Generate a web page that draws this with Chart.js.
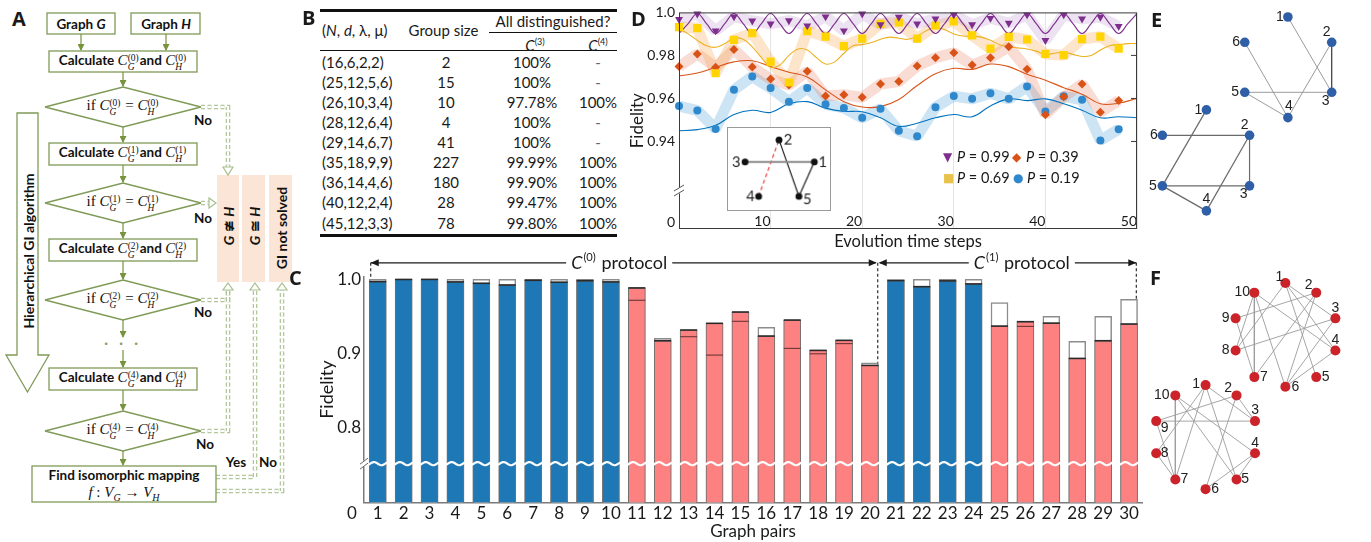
<!DOCTYPE html>
<html lang="en">
<head>
<meta charset="UTF-8" />
<title>Hierarchical GI algorithm – fidelities</title>
<script src="https://cdn.jsdelivr.net/npm/chart.js"></script>
<style>
  html, body { margin: 0; padding: 0; background: #fff; }
  body {
    width: 1371px; height: 542px; position: relative; overflow: hidden;
    font-family: Lato, 'Open Sans', sans-serif; color: #1a1a1a;
  }
  canvas { position: absolute; }
  .tag { position: absolute; font: bold 20px 'Open Sans', Lato, sans-serif; line-height: 20px; color: #1a1a1a; }
  .ft { position: absolute; transform: translate(-50%, -50%); white-space: nowrap; font: bold 13.5px Lato, sans-serif; color: #111; }
  .m { font-family: 'Liberation Serif', 'DejaVu Serif', serif; font-weight: normal; font-size: 15px; }
  .ss { display: inline-flex; flex-direction: column; font-size: 9.5px; line-height: 9px; vertical-align: 4px; text-align: left; margin-right: 1px; }
  .vert { position: absolute; transform: translate(-50%, -50%) rotate(-90deg); white-space: nowrap; font: bold 14px Lato, sans-serif; color: #111; }
  #tbl div { position: absolute; white-space: nowrap; font-size: 15px; line-height: 20px; }
  .rule { position: absolute; background: #111; }
  .leg { position: absolute; font: 14.5px Lato, sans-serif; white-space: nowrap; line-height: 18px; }
  .sym { position: absolute; font: 12px 'DejaVu Sans', sans-serif; line-height: 14px; }
  #inset { border: 1px solid #9a9a9a; background: #fff; }
</style>
</head>
<body>

<!-- A: flowchart -->
<svg style="position:absolute;left:0;top:0" width="300" height="510">
  <defs>
    <marker id="ah" markerWidth="7" markerHeight="7" refX="6" refY="3.5" orient="auto" markerUnits="userSpaceOnUse">
      <path d="M0,0 L7,3.5 L0,7 z" fill="#77933c"/>
    </marker>
  </defs>
  <g fill="#fbe5d6">
    <rect x="217" y="175" width="22" height="107"/>
    <rect x="242" y="175" width="23" height="107"/>
    <rect x="269" y="175" width="23" height="107"/>
  </g>
  <g fill="none" stroke="#b3c79c" stroke-width="4.6" stroke-dasharray="4 2.5">
    <path d="M201,107 H228 V168"/>
    <path d="M201,203 H210"/>
    <path d="M201,300 H228 V290"/>
    <path d="M201,431 H228 V290"/>
    <path d="M216,477 H255 V290"/>
    <path d="M216,491 H282 V290"/>
  </g>
  <g fill="none" stroke="#fff" stroke-width="2" stroke-dasharray="4 2.5">
    <path d="M201,107 H228 V168"/>
    <path d="M201,203 H210"/>
    <path d="M201,300 H228 V290"/>
    <path d="M201,431 H228 V290"/>
    <path d="M216,477 H255 V290"/>
    <path d="M216,491 H282 V290"/>
  </g>
  <g fill="#fff" stroke="#a9bf8f" stroke-width="1.2">
    <polygon points="223,167 233,167 228,175"/>
    <polygon points="209,198 209,208 216,203"/>
    <polygon points="223,290 233,290 228,283"/>
    <polygon points="250,290 260,290 255,283"/>
    <polygon points="277,290 287,290 282,283"/>
  </g>
  <g fill="#fff" stroke="#7f9a57" stroke-width="1.3">
    <rect x="47" y="13" width="68" height="21"/>
    <rect x="131" y="13" width="69" height="21"/>
    <rect x="49" y="51" width="148" height="21"/>
    <polygon points="45,107 123,87 201,107 123,127"/>
    <rect x="49" y="143" width="148" height="22"/>
    <polygon points="45,203 123,183 201,203 123,223"/>
    <rect x="49" y="239" width="148" height="22"/>
    <polygon points="45,300 123,280 201,300 123,320"/>
    <rect x="49" y="368" width="148" height="22"/>
    <polygon points="45,431 123,411 201,431 123,451"/>
    <rect x="32" y="466" width="184" height="36"/>
    <polygon points="17,113 38,113 38,355 49,355 27.5,392 6,355 17,355"/>
  </g>
  <g stroke="#77933c" stroke-width="1.2" marker-end="url(#ah)">
    <line x1="81" y1="34" x2="81" y2="50"/>
    <line x1="166" y1="34" x2="166" y2="50"/>
    <line x1="123" y1="72" x2="123" y2="86"/>
    <line x1="123" y1="127" x2="123" y2="142"/>
    <line x1="123" y1="165" x2="123" y2="182"/>
    <line x1="123" y1="223" x2="123" y2="238"/>
    <line x1="123" y1="261" x2="123" y2="279"/>
    <line x1="123" y1="320" x2="123" y2="337"/>
    <line x1="123" y1="350" x2="123" y2="367"/>
    <line x1="123" y1="390" x2="123" y2="410"/>
    <line x1="123" y1="451" x2="123" y2="465"/>
  </g>
</svg>
<div id="flow"></div>

<!-- B: table -->
<div id="tbl"></div>

<!-- C and D charts -->
<canvas id="cChart" width="850" height="302" style="left:300px;top:240px"></canvas>
<canvas id="dChart" width="525" height="252" style="left:620px;top:0px"></canvas>
<canvas id="inset" width="104" height="84" style="left:727px;top:127px"></canvas>
<div id="dLegend"></div>

<!-- E and F graphs -->
<canvas id="eChart" width="231" height="250" style="left:1140px;top:0px"></canvas>
<canvas id="fChart" width="231" height="272" style="left:1140px;top:270px"></canvas>

<div class="tag" style="left:12px;top:9px">A</div>
<div class="tag" style="left:302px;top:8px">B</div>
<div class="tag" style="left:289px;top:268px">C</div>
<div class="tag" style="left:631px;top:9px">D</div>
<div class="tag" style="left:1151px;top:10px">E</div>
<div class="tag" style="left:1150px;top:268px">F</div>

<script>
// ---------- B: table values ----------
const srgParams = ['(16,6,2,2)', '(25,12,5,6)', '(26,10,3,4)', '(28,12,6,4)', '(29,14,6,7)',
                   '(35,18,9,9)', '(36,14,4,6)', '(40,12,2,4)', '(45,12,3,3)'];
const groupSizes = ['2', '15', '10', '4', '41', '227', '180', '28', '78'];
const distC3 = ['100%', '100%', '97.78%', '100%', '100%', '99.99%', '99.90%', '99.47%', '99.80%'];
const distC4 = ['-', '-', '100%', '-', '-', '100%', '100%', '100%', '100%'];

// ---------- C: fidelity of the 30 graph pairs ----------
const pairIds = [1, 2, 3, 4, 5, 6, 7, 8, 9, 10, 11, 12, 13, 14, 15,
                 16, 17, 18, 19, 20, 21, 22, 23, 24, 25, 26, 27, 28, 29, 30];
const pairKind = ['a', 'a', 'a', 'a', 'a', 'a', 'a', 'a', 'a', 'a',
                  'b', 'b', 'b', 'b', 'b', 'b', 'b', 'b', 'b', 'b',
                  'a', 'a', 'a', 'a', 'b', 'b', 'b', 'b', 'b', 'b'];
const fidMeasured = [0.9968, 0.9997, 0.9998, 0.9964, 0.9946, 0.9923, 0.9986, 0.9960, 0.9980, 0.9964,
                     0.9883, 0.9173, 0.9317, 0.9407, 0.9559, 0.9236, 0.9451, 0.9043, 0.9178, 0.8841,
                     0.9982, 0.9900, 0.9978, 0.9937, 0.9370, 0.9429, 0.9410, 0.8935, 0.9173, 0.9398];
const fidTheory = [1.0, 1.0, 1.0, 1.0, 1.0, 1.0, 1.0, 1.0, 1.0, 1.0,
                   0.9883, 0.9205, 0.9317, 0.9407, 0.9559, 0.9353, 0.9451, 0.9043, 0.9178, 0.8876,
                   0.9995, 1.0, 1.0, 1.0, 0.9685, 0.9429, 0.9500, 0.9164, 0.9500, 0.9730];
const fidInner = [null, null, null, null, null, null, null, null, null, null,
                  0.9717, null, 0.9227, 0.8980, 0.9434, null, 0.9070, 0.8997, 0.9134, null,
                  null, null, null, null, null, 0.9366, null, null, null, null];
const xTicksC = [0, 1, 2, 3, 4, 5, 6, 7, 8, 9, 10, 11, 12, 13, 14, 15,
                 16, 17, 18, 19, 20, 21, 22, 23, 24, 25, 26, 27, 28, 29, 30];
const yTicksC = [0.8, 0.9, 1.0];

// ---------- D: fidelity vs evolution time steps ----------
const stepsPts = [0, 2, 4, 6, 8, 10, 12, 14, 16, 18, 20, 22, 24,
                  26, 28, 30, 32, 34, 36, 38, 40, 42, 44, 46, 48];
const fidP99 = [0.9968, 0.9993, 0.9915, 0.9980, 0.9961, 0.9947, 0.9962, 0.9938, 0.9980, 0.9915, 0.9993, 0.9943, 0.9978,
                0.9947, 0.9970, 0.9989, 0.9943, 0.9973, 0.9950, 0.9989, 0.9870, 0.9989, 0.9970, 0.9978, 0.9935];
const fidP69 = [0.9932, 0.9927, 0.9717, 0.9872, 0.9904, 0.9771, 0.9674, 0.9913, 0.9887, 0.9843, 0.9878, 0.9947, 0.9953,
                0.9878, 0.9939, 0.9958, 0.9893, 0.9832, 0.9886, 0.9874, 0.9807, 0.9801, 0.9876, 0.9887, 0.9832];
const fidP39 = [0.9748, 0.9807, 0.9745, 0.9828, 0.9746, 0.9690, 0.9662, 0.9726, 0.9611, 0.9617, 0.9605, 0.9667, 0.9679,
                0.9751, 0.9789, 0.9812, 0.9755, 0.9789, 0.9840, 0.9736, 0.9524, 0.9608, 0.9667, 0.9536, 0.9590];
const fidP19 = [0.9565, 0.9544, 0.9458, 0.9640, 0.9702, 0.9648, 0.9585, 0.9648, 0.9573, 0.9556, 0.9510, 0.9552, 0.9450,
                0.9424, 0.9559, 0.9611, 0.9598, 0.9624, 0.9598, 0.9656, 0.9539, 0.9610, 0.9594, 0.9405, 0.9457];
// theory curves
const stepsFine = [0, 1, 2, 3, 4, 5, 6, 7, 8, 9, 10, 11, 12, 13, 14, 15, 16, 17, 18, 19, 20, 21, 22, 23, 24, 25,
                   26, 27, 28, 29, 30, 31, 32, 33, 34, 35, 36, 37, 38, 39, 40, 41, 42, 43, 44, 45, 46, 47, 48, 49, 50];
const stepsCoarse = [0, 2, 4, 6, 8, 10, 12, 14, 16, 18, 20, 22, 24, 26, 28, 30, 32, 34, 36, 38, 40, 42, 44, 46, 48, 50];
const theoP99 = [0.9902, 0.9948, 0.9995, 0.9948, 0.9902, 0.9948, 0.9995, 0.9948, 0.9902, 0.9948, 0.9995, 0.9948,
                 0.9902, 0.9948, 0.9995, 0.9948, 0.9902, 0.9948, 0.9995, 0.9948, 0.9902, 0.9948, 0.9995, 0.9948,
                 0.9902, 0.9948, 0.9995, 0.9948, 0.9902, 0.9948, 0.9995, 0.9948, 0.9902, 0.9948, 0.9995, 0.9948,
                 0.9902, 0.9948, 0.9995, 0.9948, 0.9902, 0.9948, 0.9995, 0.9948, 0.9902, 0.9948, 0.9995, 0.9948,
                 0.9902, 0.9948, 0.9995];
const theoP69 = [0.9925, 0.9900, 0.9870, 0.9845, 0.9838, 0.9855, 0.9880, 0.9875, 0.9840, 0.9790, 0.9745, 0.9755,
                 0.9800, 0.9830, 0.9825, 0.9790, 0.9760, 0.9770, 0.9810, 0.9845, 0.9850, 0.9860, 0.9875, 0.9885,
                 0.9880, 0.9875, 0.9890, 0.9915, 0.9930, 0.9920, 0.9900, 0.9890, 0.9890, 0.9885, 0.9870, 0.9850,
                 0.9840, 0.9835, 0.9830, 0.9820, 0.9805, 0.9810, 0.9815, 0.9805, 0.9795, 0.9800, 0.9825, 0.9845,
                 0.9850, 0.9855, 0.9855];
const theoP39 = [0.9705, 0.9718, 0.9745, 0.9770, 0.9775, 0.9748, 0.9722, 0.9700, 0.9640, 0.9585, 0.9560, 0.9562, 0.9595,
                 0.9660, 0.9715, 0.9740, 0.9735, 0.9760, 0.9748, 0.9712, 0.9685, 0.9650, 0.9620, 0.9575, 0.9578, 0.9600];
const theoP19 = [0.9450, 0.9455, 0.9475, 0.9525, 0.9545, 0.9535, 0.9575, 0.9585, 0.9555, 0.9540, 0.9538, 0.9510, 0.9470,
                 0.9485, 0.9510, 0.9525, 0.9515, 0.9565, 0.9598, 0.9590, 0.9598, 0.9575, 0.9545, 0.9510, 0.9515, 0.9510];
const yTicksD = [0.9025, 0.94, 0.96, 0.98, 1.0];

// inset graph of D (box pixel coordinates)
const insetX = [91, 52, 14.5, 29.5, 74];
const insetY = [34, 9, 34, 73, 73];

// ---------- E / F: graph drawings (node coordinates) ----------
const eTopX = [149.3, 195, 195, 149.3, 104.3, 104.3];
const eTopY = [12.7, 39, 91, 117.3, 91, 39];
const eTopEdges = [[1, 3], [2, 3], [2, 4], [6, 4], [5, 3], [5, 4]];
const eBotX = [64.3, 109.3, 109.3, 64.3, 18.3, 18.3];
const eBotY = [109.3, 135.7, 188.3, 214.3, 188.3, 135.7];
const eBotEdges = [[1, 5], [6, 2], [2, 3], [2, 4], [5, 3], [5, 4]];
const fTopX = [146.7, 179, 199, 199, 179, 146.7, 114.3, 94.7, 94.7, 114.3];
const fTopY = [8.3, 18.3, 45, 78.3, 106, 116, 106, 78.3, 45, 18.3];
const fTopEdges = [[10, 7], [10, 8], [10, 6], [10, 4], [1, 8], [1, 3], [1, 5], [1, 4],
                   [2, 9], [2, 7], [2, 6], [3, 8], [3, 6], [4, 6], [9, 7]];
const fBotX = [63.3, 95.7, 115, 115, 95.7, 63.3, 31.7, 11.7, 11.7, 31.7];
const fBotY = [114.3, 125, 151.7, 185, 212.3, 222.3, 212.3, 185, 151.7, 125];
const fBotEdges = [[10, 7], [9, 3], [9, 2], [1, 3], [2, 3], [1, 8], [1, 7], [1, 5],
                   [10, 5], [10, 4], [2, 6], [4, 6], [4, 5], [9, 7], [8, 7]];

Chart.defaults.font.family = 'Lato, "Open Sans", sans-serif';
Chart.defaults.color = '#1a1a1a';

// ---------- A: flowchart text ----------
const flow = document.getElementById('flow');
function ftext(x, y, html, cls) {
  const d = document.createElement('div');
  d.className = cls || 'ft';
  d.style.left = x + 'px';
  d.style.top = y + 'px';
  d.innerHTML = html;
  flow.appendChild(d);
}
const cm = (k, s) => `<span class="m"><i>C</i></span><span class="m ss"><span>(${k})</span><span><i>${s}</i></span></span>`;
ftext(81, 24, 'Graph <i>G</i>');
ftext(166, 24, 'Graph <i>H</i>');
[[61.5, 0], [154, 1], [250, 2], [379, 4]].forEach(([y, k]) =>
  ftext(123, y, `Calculate ${cm(k, 'G')}and ${cm(k, 'H')}`));
[[107, 0], [203, 1], [300, 2], [431, 4]].forEach(([y, k]) =>
  ftext(123, y, `<span class="m">if </span>${cm(k, 'G')}<span class="m"> = </span>${cm(k, 'H')}`));
ftext(123, 343, '<span style="color:#8aa06a;letter-spacing:4px">· · ·</span>');
ftext(203, 120, 'No'); ftext(203, 218, 'No'); ftext(203, 312, 'No'); ftext(205, 444, 'No');
ftext(236, 462, 'Yes'); ftext(268, 462, 'No');
ftext(124, 475, 'Find isomorphic mapping');
ftext(124, 493, '<span class="m"><i>f</i> : <i>V<sub style="font-size:10px">G</sub></i> → <i>V<sub style="font-size:10px">H</sub></i></span>');
ftext(228, 226, '<i>G</i> ≇ <i>H</i>', 'vert');
ftext(253.5, 226, '<i>G</i> ≅ <i>H</i>', 'vert');
ftext(280.5, 228, 'GI not solved', 'vert');
ftext(28, 251, 'Hierarchical GI algorithm', 'vert');

// ---------- B: table ----------
const tbl = document.getElementById('tbl');
function tcell(x, y, html, align) {
  const d = document.createElement('div');
  d.innerHTML = html;
  d.style.top = (y - 10) + 'px';
  d.style.left = x + 'px';
  if (align !== 'left') d.style.transform = 'translateX(-50%)';
  tbl.appendChild(d);
}
function rule(x, y, w, h) {
  const d = document.createElement('div');
  d.className = 'rule';
  Object.assign(d.style, { left: x + 'px', top: y + 'px', width: w + 'px', height: h + 'px' });
  tbl.appendChild(d);
}
rule(320, 9, 297, 3);
rule(489, 32, 128, 1.4);
rule(320, 49.5, 297, 1.6);
rule(320, 234, 297, 2.6);
tcell(322, 30, '(<i>N</i>, <i>d</i>, λ, μ)', 'left');
tcell(443.5, 30, 'Group size');
tcell(553, 21, 'All distinguished?');
tcell(535, 42, '<i>C</i><sup style="font-size:9px">(3)</sup>');
tcell(598, 42, '<i>C</i><sup style="font-size:9px">(4)</sup>');
srgParams.forEach((p, i) => {
  const y = 61.7 + 20.1 * i;
  tcell(322, y, p, 'left');
  tcell(446, y, groupSizes[i]);
  tcell(532, y, distC3[i]);
  tcell(598, y, distC4[i] === '-' ? '<span style="color:#666">-</span>' : distC4[i]);
});

// ---------- C: bar chart ----------
const kindColor = { a: '#1f78b6', b: '#fe8181' };
const breakC = 0.752;

function drawSup(ctx, x, y, base, sup, rest, size) {
  // italic symbol, raised superscript, plain rest; centred on x
  ctx.font = `italic ${size}px Lato, sans-serif`;
  const w1 = ctx.measureText(base).width;
  ctx.font = `${size * 0.62}px Lato, sans-serif`;
  const w2 = ctx.measureText(sup).width;
  ctx.font = `${size}px Lato, sans-serif`;
  const w3 = ctx.measureText(rest).width;
  const total = w1 + w2 + w3 + 2;
  let cx = x - total / 2;
  ctx.fillStyle = '#fff';
  ctx.fillRect(cx - 5, y - size * 0.7, total + 10, size * 1.4);
  ctx.fillStyle = '#1a1a1a';
  ctx.textBaseline = 'middle';
  ctx.textAlign = 'left';
  ctx.font = `italic ${size}px Lato, sans-serif`;
  ctx.fillText(base, cx, y); cx += w1 + 1;
  ctx.font = `${size * 0.62}px Lato, sans-serif`;
  ctx.fillText(sup, cx, y - size * 0.33); cx += w2 + 1;
  ctx.font = `${size}px Lato, sans-serif`;
  ctx.fillText(rest, cx, y);
}

function arrowHead(ctx, x, y, dir) {
  ctx.beginPath();
  ctx.moveTo(x, y);
  ctx.lineTo(x - 8 * dir, y - 3.5);
  ctx.lineTo(x - 8 * dir, y + 3.5);
  ctx.closePath();
  ctx.fill();
}

const cDecor = {
  id: 'cDecor',
  afterDatasetsDraw(chart) {
    const { ctx, scales: { x, y }, chartArea } = chart;
    const meta = chart.getDatasetMeta(0);
    const yb = y.getPixelForValue(breakC);
    ctx.save();
    meta.data.forEach((bar, i) => {
      const half = bar.width / 2;
      ctx.strokeStyle = '#2a2a2a';
      ctx.lineWidth = 1.6;
      const yc = y.getPixelForValue(fidMeasured[i]);
      ctx.beginPath(); ctx.moveTo(bar.x - half, yc); ctx.lineTo(bar.x + half, yc); ctx.stroke();
      if (fidInner[i] !== null) {
        const yi = y.getPixelForValue(fidInner[i]);
        ctx.strokeStyle = '#6a3636';
        ctx.lineWidth = 1.1;
        ctx.beginPath(); ctx.moveTo(bar.x - half, yi); ctx.lineTo(bar.x + half, yi); ctx.stroke();
      }
      // white wavy break across the bar
      ctx.strokeStyle = '#fff';
      ctx.lineWidth = 2.2;
      ctx.beginPath();
      for (let px = -half - 1; px <= half + 1; px += 1) {
        const yy = yb + 1.6 * Math.sin(px / 2.4);
        if (px === -half - 1) ctx.moveTo(bar.x + px, yy); else ctx.lineTo(bar.x + px, yy);
      }
      ctx.stroke();
    });
    // axis break marks
    const ax = chartArea.left;
    ctx.fillStyle = '#fff';
    ctx.fillRect(ax - 3, yb - 3, 6, 6);
    ctx.strokeStyle = '#666';
    ctx.lineWidth = 1;
    [-2.5, 2.5].forEach(d => {
      ctx.beginPath(); ctx.moveTo(ax - 4, yb + d + 3); ctx.lineTo(ax + 4, yb + d - 3); ctx.stroke();
    });
    ctx.restore();
  },
  afterDraw(chart) {
    const { ctx, scales: { x, y } } = chart;
    const yA = y.getPixelForValue(1.022);
    const xL = x.getPixelForValue(0.73), xM = x.getPixelForValue(20.3), xR = x.getPixelForValue(30.28);
    ctx.save();
    ctx.strokeStyle = '#1a1a1a';
    ctx.fillStyle = '#1a1a1a';
    ctx.lineWidth = 1.1;
    ctx.beginPath(); ctx.moveTo(xL, yA); ctx.lineTo(xM - 2, yA); ctx.stroke();
    ctx.beginPath(); ctx.moveTo(xM + 2, yA); ctx.lineTo(xR, yA); ctx.stroke();
    arrowHead(ctx, xL, yA, -1);
    arrowHead(ctx, xM - 1, yA, 1);
    arrowHead(ctx, xM + 1, yA, -1);
    arrowHead(ctx, xR, yA, 1);
    ctx.setLineDash([3, 2.5]);
    ctx.beginPath(); ctx.moveTo(xL, yA); ctx.lineTo(xL, y.getPixelForValue(1.0)); ctx.stroke();
    ctx.beginPath(); ctx.moveTo(xM, yA); ctx.lineTo(xM, y.getPixelForValue(fidTheory[19])); ctx.stroke();
    ctx.beginPath(); ctx.moveTo(xR, yA); ctx.lineTo(xR, y.getPixelForValue(fidTheory[29])); ctx.stroke();
    ctx.setLineDash([]);
    drawSup(ctx, x.getPixelForValue(10.32), yA, 'C', '(0)', ' protocol', 18);
    drawSup(ctx, x.getPixelForValue(25.86), yA, 'C', '(1)', ' protocol', 18);
    ctx.restore();
  }
};

new Chart(document.getElementById('cChart'), {
  type: 'bar',
  data: {
    datasets: [
      {
        data: pairIds.map((p, i) => ({ x: p, y: fidMeasured[i] })),
        backgroundColor: pairKind.map(k => kindColor[k]),
        borderColor: '#707070', borderWidth: 1,
        grouped: false, barThickness: 17, order: 0
      },
      {
        data: pairIds.map((p, i) => ({ x: p, y: fidTheory[i] })),
        backgroundColor: '#fff',
        borderColor: '#8c8c8c', borderWidth: 1.5,
        grouped: false, barThickness: 17, order: 1
      }
    ]
  },
  options: {
    animation: false, responsive: false,
    layout: { padding: { top: 37, right: 8, left: 0, bottom: 0 } },
    plugins: { legend: { display: false }, tooltip: { enabled: false } },
    scales: {
      x: {
        type: 'linear', min: 0.47, max: 30.5, offset: false,
        grid: { display: false, drawTicks: false },
        border: { color: '#7a7a7a', width: 1.5 },
        afterBuildTicks: s => { s.ticks = xTicksC.map(v => ({ value: v })); },
        ticks: { font: { size: 17 }, padding: 1, maxRotation: 0, autoSkip: false, callback: v => String(v) },
        title: { display: true, text: 'Graph pairs', font: { size: 17 }, padding: 0 },
        afterFit: s => { s.height = 39.7; }
      },
      y: {
        min: 0.7, max: 1.003,
        grid: { display: false, drawTicks: false },
        border: { color: '#7a7a7a', width: 1.5 },
        afterBuildTicks: s => { s.ticks = yTicksC.map(v => ({ value: v })); },
        ticks: { font: { size: 17 }, padding: 3, callback: v => v.toFixed(1) },
        title: { display: true, text: 'Fidelity', font: { size: 18 }, padding: { top: 16, bottom: 0 } },
        afterFit: s => { s.width = 64; }
      }
    }
  },
  plugins: [cDecor]
});

// ---------- D: line chart ----------
const pts = (xs, ys) => xs.map((v, i) => ({ x: v, y: ys[i] }));
const dFrame = {
  id: 'dFrame',
  afterDraw(chart) {
    const { ctx, chartArea: a, scales: { y } } = chart;
    ctx.save();
    ctx.strokeStyle = '#3a3a3a';
    ctx.lineWidth = 1;
    ctx.strokeRect(a.left + 0.5, a.top + 0.5, a.width - 1, a.height - 1);
    [0.94, 0.96, 0.98].forEach(v => {
      const yy = y.getPixelForValue(v);
      ctx.beginPath(); ctx.moveTo(a.right - 6, yy); ctx.lineTo(a.right, yy); ctx.stroke();
    });
    // axis break
    const yb = y.getPixelForValue(0.9172);
    ctx.fillStyle = '#fff';
    ctx.fillRect(a.left - 3, yb - 3, 6, 6);
    ctx.strokeStyle = '#555';
    [-2.5, 2.5].forEach(d => {
      ctx.beginPath(); ctx.moveTo(a.left - 5, yb + d + 3); ctx.lineTo(a.left + 5, yb + d - 3); ctx.stroke();
    });
    ctx.restore();
  }
};

const seriesD = [
  { pts: fidP99, theoX: stepsFine, theo: theoP99, line: '#7e2f8e', band: 'rgba(185,140,205,0.25)', marker: 'triangle', rot: 180, r: 4.6, fill: '#7e2f8e' },
  { pts: fidP69, theoX: stepsFine, theo: theoP69, line: '#edb120', band: 'rgba(245,170,80,0.30)', marker: 'rect', rot: 0, r: 5.8, fill: '#ffd400' },
  { pts: fidP39, theoX: stepsCoarse, theo: theoP39, line: '#d95319', band: 'rgba(230,120,90,0.26)', marker: 'rectRot', rot: 0, r: 4.5, fill: '#d95319' },
  { pts: fidP19, theoX: stepsCoarse, theo: theoP19, line: '#0072bd', band: 'rgba(90,165,220,0.30)', marker: 'circle', rot: 0, r: 4, fill: '#2f88cc' }
];
const dSets = [];
seriesD.forEach(s => {
  dSets.push({ type: 'line', data: pts(stepsPts, s.pts), borderColor: s.band, borderWidth: 11,
               borderJoinStyle: 'bevel', pointRadius: 0, tension: 0, order: 3 });
  dSets.push({ type: 'line', data: pts(s.theoX, s.theo), borderColor: s.line, borderWidth: 1.1,
               pointRadius: 0, tension: 0.4, order: 2 });
  dSets.push({ type: 'scatter', data: pts(stepsPts, s.pts), pointStyle: s.marker, rotation: s.rot,
               pointRadius: s.r, backgroundColor: s.fill, borderWidth: 0, order: 1, clip: 8 });
});

new Chart(document.getElementById('dChart'), {
  type: 'scatter',
  data: { datasets: dSets },
  options: {
    animation: false, responsive: false,
    layout: { padding: { top: 10, right: 8, left: 0, bottom: 0 } },
    plugins: { legend: { display: false }, tooltip: { enabled: false } },
    scales: {
      x: {
        type: 'linear', min: 0, max: 50,
        grid: { color: '#e4e4e4', drawTicks: false },
        border: { display: false },
        ticks: { stepSize: 10, align: 'end', mirror: true, padding: -1, font: { size: 14 },
                 callback: v => (v === 0 ? '' : String(v)) },
        title: { display: true, text: 'Evolution time steps', font: { size: 16.5 }, padding: 0 },
        afterFit: s => { s.height = 23; }
      },
      y: {
        min: 0.8993, max: 1.0,
        grid: { display: false, drawTicks: false },
        border: { display: false },
        afterBuildTicks: s => { s.ticks = yTicksD.map(v => ({ value: v })); },
        ticks: { font: { size: 14 }, padding: 4, callback: v => (v < 0.92 ? '0' : v === 1 ? '1.0' : v.toFixed(2)) },
        title: { display: true, text: 'Fidelity', font: { size: 17 }, padding: { top: 7, bottom: 0 } },
        afterFit: s => { s.width = 59; }
      }
    }
  },
  plugins: [dFrame]
});

// legend of D
const legD = document.getElementById('dLegend');
[
  ['▼', '#7e2f8e', 943, 157, '0.99'], ['◆', '#d95319', 1012, 157, '0.39'],
  ['■', '#e9c24b', 943, 178, '0.69'], ['●', '#2f88cc', 1013, 178, '0.19']
].forEach(([g, c, x, y, p]) => {
  const s = document.createElement('div');
  s.className = 'sym';
  s.style.left = x + 'px'; s.style.top = (y - 7) + 'px'; s.style.color = c;
  s.textContent = g;
  legD.appendChild(s);
  const t = document.createElement('div');
  t.className = 'leg';
  t.style.left = (x + 14) + 'px'; t.style.top = (y - 9) + 'px';
  t.innerHTML = `<i>P</i> = ${p}`;
  legD.appendChild(t);
});

// ---------- graph drawings (inset, E, F) ----------
function nodeLabels(groups, font) {
  return {
    id: 'nodeLabels',
    afterDatasetsDraw(chart) {
      const { ctx, scales: { x, y } } = chart;
      ctx.save();
      ctx.font = font;
      ctx.fillStyle = '#222';
      ctx.textAlign = 'center';
      ctx.textBaseline = 'middle';
      groups.forEach(g => g.xs.forEach((v, i) => {
        ctx.fillText(String(i + 1), x.getPixelForValue(v) + g.off[i][0], y.getPixelForValue(g.ys[i]) + g.off[i][1]);
      }));
      ctx.restore();
    }
  };
}
function graphChart(id, w, h, groups, nodeColor, radius, font) {
  const datasets = [];
  groups.forEach(g => {
    g.edges.forEach(([a, b], k) => datasets.push({
      type: 'line',
      data: [{ x: g.xs[a - 1], y: g.ys[a - 1] }, { x: g.xs[b - 1], y: g.ys[b - 1] }],
      borderColor: g.edgeColor[k] || g.edgeColor[0], borderWidth: g.edgeWidth[k] || g.edgeWidth[0],
      borderDash: (g.edgeDash && g.edgeDash[k]) || [], pointRadius: 0, order: 2
    }));
    datasets.push({ type: 'scatter', data: pts(g.xs, g.ys), backgroundColor: nodeColor,
                    pointRadius: radius, borderWidth: 0, order: 1 });
  });
  new Chart(document.getElementById(id), {
    type: 'scatter',
    data: { datasets },
    options: {
      animation: false, responsive: false,
      layout: { padding: 0 },
      plugins: { legend: { display: false }, tooltip: { enabled: false } },
      scales: {
        x: { display: false, min: 0, max: w },
        y: { display: false, min: 0, max: h, reverse: true }
      }
    },
    plugins: [nodeLabels(groups, font)]
  });
}

graphChart('inset', 104, 84, [{
  xs: insetX, ys: insetY,
  edges: [[3, 1], [2, 5], [5, 1], [4, 2]],
  edgeColor: ['#8a8a8a', '#1a1a1a', '#1a1a1a', '#ee3b3b'],
  edgeWidth: [2, 1.2, 1.2, 1.2],
  edgeDash: [null, null, null, [4, 3]],
  off: [[8.5, 0], [9, 0], [-9, 0], [-8.5, 0], [8.5, 3.5]]
}], '#111', 3.5, '15px Lato, sans-serif');

graphChart('eChart', 231, 250, [
  { xs: eTopX, ys: eTopY, edges: eTopEdges,
    edgeColor: ['#9a9a9a', '#444', '#9a9a9a'], edgeWidth: [1, 1.3, 1],
    off: [[-8, 0], [-5, -10], [-6, 9], [1, -11], [-9.5, 0], [-8.6, 0]] },
  { xs: eBotX, ys: eBotY, edges: eBotEdges,
    edgeColor: ['#6a6a6a'], edgeWidth: [1.2],
    off: [[-8, 0], [-5, -10], [-6, 8.5], [0, -11.5], [-9.5, 0], [-8.5, 0]] }
], '#2f5fa6', 4.8, '14px "Liberation Sans", Arial, sans-serif');

graphChart('fChart', 231, 272, [
  { xs: fTopX, ys: fTopY, edges: fTopEdges,
    edgeColor: ['#9c9c9c'], edgeWidth: [0.9],
    off: [[-6, -6], [-7.5, -7], [0, -10.5], [0, -10.5], [9.5, 0], [10, 0], [9.5, 0], [-10, 0], [-10, 0], [-12, 0]] },
  { xs: fBotX, ys: fBotY, edges: fBotEdges,
    edgeColor: ['#9c9c9c'], edgeWidth: [0.9],
    off: [[-9.5, -1], [-8.5, -7], [0, -10.5], [0, -10.5], [8.5, 0], [9.5, 0], [9, 0], [8.5, 0], [8.5, 7], [-13.5, 0]] }
], '#cc2229', 5, '14px "Liberation Sans", Arial, sans-serif');
</script>
</body>
</html>
